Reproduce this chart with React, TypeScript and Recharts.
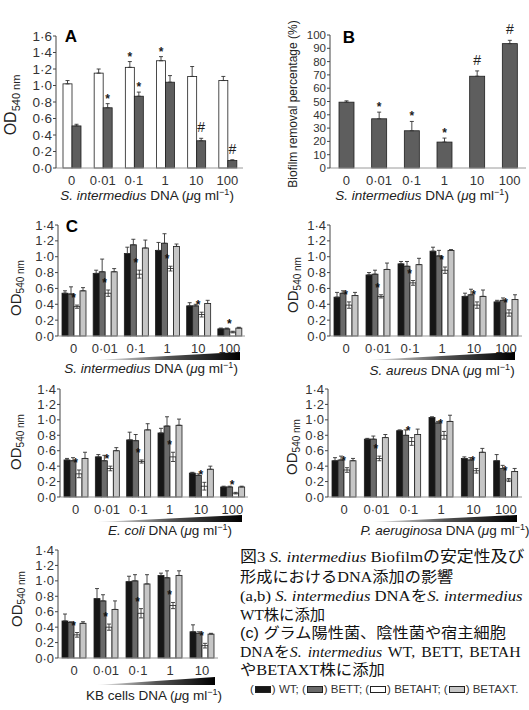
import React from 'react';
import { BarChart, Bar, XAxis, YAxis, ErrorBar } from 'recharts';

// ---------- categories & ticks ----------
const doseCats = ['0', '0·01', '0·1', '1', '10', '100'];
const kbCats = ['0', '0·01', '0·1', '1', '10'];
const odTicksA = [0, 0.2, 0.4, 0.6, 0.8, 1.0, 1.2, 1.4, 1.6];
const odTicksC = [0, 0.2, 0.4, 0.6, 0.8, 1.0, 1.2, 1.4];
const pctTicks = [0, 10, 20, 30, 40, 50, 60, 70, 80, 90, 100];

// ---------- Panel A ----------
const aWhite = [1.02, 1.15, 1.22, 1.30, 1.11, 1.06];
const aWhiteErr = [0.04, 0.05, 0.07, 0.05, 0.12, 0.05];
const aWhiteSig = ['', '', '*', '*', '', ''];
const aDark = [0.51, 0.73, 0.87, 1.04, 0.33, 0.09];
const aDarkErr = [0.02, 0.05, 0.05, 0.08, 0.03, 0.01];
const aDarkSig = ['', '*', '*', '', '#', '#'];

// ---------- Panel B ----------
const bRemoval = [49.5, 37, 28, 19.5, 69, 93.5];
const bRemovalErr = [1, 5, 7, 3, 4, 2.5];
const bRemovalSig = ['', '*', '*', '*', '#', '#'];

// ---------- Panel C: S. intermedius DNA ----------
const siWT = [0.54, 0.79, 1.04, 1.08, 0.38, 0.09];
const siWTErr = [0.03, 0.04, 0.08, 0.10, 0.04, 0.01];
const siBETT = [0.53, 0.81, 1.15, 1.17, 0.38, 0.09];
const siBETTErr = [0.09, 0.16, 0.07, 0.12, 0.02, 0.01];
const siBETAHT = [0.37, 0.54, 0.78, 0.85, 0.27, 0.05];
const siBETAHTErr = [0.02, 0.04, 0.05, 0.03, 0.03, 0.01];
const siBETAXT = [0.57, 0.81, 1.11, 1.13, 0.41, 0.10];
const siBETAXTErr = [0.04, 0.04, 0.10, 0.03, 0.04, 0.01];

// ---------- S. aureus DNA ----------
const saWT = [0.49, 0.77, 0.91, 1.07, 0.50, 0.43];
const saWTErr = [0.06, 0.03, 0.03, 0.05, 0.04, 0.02];
const saBETT = [0.54, 0.78, 0.88, 1.01, 0.52, 0.45];
const saBETTErr = [0.03, 0.05, 0.06, 0.07, 0.07, 0.03];
const saBETAHT = [0.39, 0.50, 0.67, 0.83, 0.39, 0.29];
const saBETAHTErr = [0.04, 0.02, 0.03, 0.04, 0.04, 0.04];
const saBETAXT = [0.51, 0.84, 0.90, 1.08, 0.50, 0.46];
const saBETAXTErr = [0.04, 0.08, 0.08, 0.01, 0.08, 0.06];

// ---------- E. coli DNA ----------
const ecWT = [0.48, 0.52, 0.74, 0.83, 0.31, 0.13];
const ecWTErr = [0.02, 0.03, 0.10, 0.06, 0.01, 0.01];
const ecBETT = [0.47, 0.47, 0.73, 0.92, 0.28, 0.13];
const ecBETTErr = [0.04, 0.07, 0.08, 0.12, 0.02, 0.01];
const ecBETAHT = [0.30, 0.37, 0.46, 0.52, 0.14, 0.05];
const ecBETAHTErr = [0.05, 0.03, 0.02, 0.06, 0.05, 0.01];
const ecBETAXT = [0.50, 0.60, 0.87, 0.93, 0.36, 0.13];
const ecBETAXTErr = [0.08, 0.04, 0.08, 0.08, 0.04, 0.01];

// ---------- P. aeruginosa DNA ----------
const paWT = [0.47, 0.75, 0.86, 1.03, 0.50, 0.47];
const paWTErr = [0.04, 0.01, 0.01, 0.01, 0.02, 0.08];
const paBETT = [0.48, 0.75, 0.80, 0.96, 0.48, 0.37];
const paBETTErr = [0.05, 0.04, 0.07, 0.02, 0.03, 0.04];
const paBETAHT = [0.35, 0.50, 0.72, 0.80, 0.34, 0.22];
const paBETAHTErr = [0.03, 0.03, 0.05, 0.05, 0.03, 0.02];
const paBETAXT = [0.47, 0.77, 0.81, 0.98, 0.58, 0.33];
const paBETAXTErr = [0.03, 0.04, 0.07, 0.08, 0.05, 0.04];

// ---------- KB cells DNA ----------
const kbWT = [0.48, 0.77, 0.99, 1.07, 0.34];
const kbWTErr = [0.09, 0.13, 0.07, 0.03, 0.09];
const kbBETT = [0.46, 0.74, 1.00, 1.04, 0.32];
const kbBETTErr = [0.01, 0.08, 0.08, 0.09, 0.02];
const kbBETAHT = [0.30, 0.40, 0.58, 0.68, 0.16];
const kbBETAHTErr = [0.03, 0.04, 0.06, 0.04, 0.03];
const kbBETAXT = [0.45, 0.63, 0.96, 1.07, 0.31];
const kbBETAXTErr = [0.02, 0.11, 0.12, 0.06, 0.01];

const starAll6 = ['*', '*', '*', '*', '*', '*'];
const starAll5 = ['*', '*', '*', '*', '*'];

const legendItems = ['WT', 'BETT', 'BETAHT', 'BETAXT'];

// ---------- styling ----------
const FILL_WT = '#161616';
const FILL_BETT = '#6a6a6a';
const FILL_BETAHT = '#ffffff';
const FILL_BETAXT = '#c6c6c6';
const FILL_A_DARK = '#5e5e5e';
const SANS = "'Liberation Sans', Arial, sans-serif";
const SERIF = "'Liberation Serif', 'Noto Sans CJK JP', serif";
const SANS_CJK = "'Liberation Sans', 'Noto Sans CJK JP', sans-serif";

type Series = {
  key: string;
  fill: string;
  values: number[];
  errs: number[];
  sig?: string[];
  sym?: boolean;
  markMode?: 'center' | 'left';
};

function makeShape(s: Series) {
  return (props: any) => {
    const { x, y, width, height, payload } = props;
    const v = payload[s.key];
    const e = payload[s.key + 'Err'];
    const up = Array.isArray(e) ? e[1] : e;
    const sig = payload[s.key + 'Sig'];
    const ppu = v > 0 ? height / v : 0;
    const errTop = y - up * ppu;
    let mark: any = null;
    if (sig) {
      if (s.markMode === 'left') {
        mark = (
          <text x={x - 0.5} y={errTop - 3} textAnchor="middle" fontSize={12} fontWeight="bold" fill="#111" fontFamily={SANS}>
            {sig}
          </text>
        );
      } else if (sig === '#') {
        mark = (
          <text x={x + width / 2} y={errTop - 6} textAnchor="middle" fontSize={14} fill="#222" fontFamily={SANS}>
            {sig}
          </text>
        );
      } else {
        mark = (
          <text x={x + width / 2} y={errTop - 1} textAnchor="middle" fontSize={12} fontWeight="bold" fill="#222" fontFamily={SANS}>
            {sig}
          </text>
        );
      }
    }
    return (
      <g>
        <rect x={x} y={y} width={width} height={height} fill={s.fill} stroke="#1e1e1e" strokeWidth={0.8} />
        {mark}
      </g>
    );
  };
}

type PanelProps = {
  x0: number; x1: number; y0: number; y1: number;
  cats: string[];
  series: Series[];
  yMax: number;
  ticks: number[];
  fmt: (v: number) => string;
  barSize: number;
  yWidth: number;
  yFont: number;
};

function Panel(p: PanelProps) {
  const mTop = 16, mRight = 4, mBottom = 4, mLeft = 2, xH = 22;
  const left = p.x0 - p.yWidth - mLeft;
  const top = p.y0 - mTop;
  const width = p.x1 + mRight - left;
  const height = p.y1 + xH + mBottom - top;
  const data = p.cats.map((c, i) => {
    const row: any = { cat: c };
    p.series.forEach((s) => {
      row[s.key] = s.values[i];
      row[s.key + 'Err'] = s.sym ? s.errs[i] : [0, s.errs[i]];
      row[s.key + 'Sig'] = s.sig ? s.sig[i] : '';
    });
    return row;
  });
  return (
    <div style={{ position: 'absolute', left, top }}>
      <BarChart
        width={width}
        height={height}
        data={data}
        margin={{ top: mTop, right: mRight, bottom: mBottom, left: mLeft }}
        barGap={0}
        barSize={p.barSize}
        style={{ overflow: 'visible' }}
      >
        <XAxis
          dataKey="cat"
          tickLine={false}
          axisLine={{ stroke: '#9a9a9a', strokeWidth: 1 }}
          tick={{ fontSize: 13, fill: '#333', fontFamily: SANS }}
          interval={0}
          height={xH}
        />
        <YAxis
          type="number"
          domain={[0, p.yMax]}
          ticks={p.ticks}
          tickFormatter={p.fmt}
          width={p.yWidth}
          axisLine={{ stroke: '#444', strokeWidth: 1 }}
          tickLine={{ stroke: '#444' }}
          tickSize={3}
          tickMargin={1}
          interval={0}
          tick={{ fontSize: p.yFont, fill: '#333', fontFamily: SANS }}
        />
        {p.series.map((s) => (
          <Bar key={s.key} dataKey={s.key} isAnimationActive={false} shape={makeShape(s)}>
            <ErrorBar dataKey={s.key + 'Err'} width={2} stroke="#333" strokeWidth={0.9} direction="y" />
          </Bar>
        ))}
      </BarChart>
    </div>
  );
}

const odFmt = (v: number) => v.toFixed(1).replace('.', '·');
const pctFmt = (v: number) => String(v);

function cSeries(wt: number[], wtE: number[], bt: number[], btE: number[], ah: number[], ahE: number[], ax: number[], axE: number[], sig: string[]): Series[] {
  return [
    { key: 'WT', fill: FILL_WT, values: wt, errs: wtE },
    { key: 'BETT', fill: FILL_BETT, values: bt, errs: btE },
    { key: 'BETAHT', fill: FILL_BETAHT, values: ah, errs: ahE, sym: true, sig, markMode: 'left' },
    { key: 'BETAXT', fill: FILL_BETAXT, values: ax, errs: axE },
  ];
}

function Centered({ cx, cy, children, style }: any) {
  return (
    <div style={{ position: 'absolute', left: cx, top: cy, transform: 'translate(-50%, -50%)', whiteSpace: 'nowrap', ...style }}>
      {children}
    </div>
  );
}

function Rotated({ cx, cy, children, style }: any) {
  return (
    <div style={{ position: 'absolute', left: cx, top: cy, transform: 'translate(-50%, -50%) rotate(-90deg)', whiteSpace: 'nowrap', ...style }}>
      {children}
    </div>
  );
}

function ODLabel({ cx, cy, big }: any) {
  return (
    <Rotated cx={cx} cy={cy} style={{ fontFamily: SANS, fontSize: big ? 16 : 15, color: '#222', lineHeight: 1 }}>
      OD<span style={{ fontSize: big ? 11 : 10, position: 'relative', top: big ? 4 : 3 }}>540 nm</span>
    </Rotated>
  );
}

function XTitle({ cx, cy, italic, rest }: any) {
  return (
    <Centered cx={cx} cy={cy} style={{ fontFamily: SANS, fontSize: 13.5, color: '#222' }}>
      {italic ? <i>{italic}</i> : null}
      {rest} (<i>μ</i>g ml<sup style={{ fontSize: 9 }}>−1</sup>)
    </Centered>
  );
}

function Wedge({ id, xl, xr, yt, yb }: any) {
  return (
    <svg style={{ position: 'absolute', left: xl, top: yt }} width={xr - xl} height={yb - yt}>
      <defs>
        <linearGradient id={id} x1="0" y1="0" x2="1" y2="0">
          <stop offset="0" stopColor="#f2f2f2" />
          <stop offset="0.5" stopColor="#555" />
          <stop offset="1" stopColor="#000" />
        </linearGradient>
      </defs>
      <polygon points={`0,${yb - yt} ${xr - xl},0 ${xr - xl},${yb - yt}`} fill={`url(#${id})`} />
    </svg>
  );
}

const legendFills = [FILL_WT, FILL_BETT, FILL_BETAHT, FILL_BETAXT];

export default function App() {
  const seriesA: Series[] = [
    { key: 'white', fill: '#ffffff', values: aWhite, errs: aWhiteErr, sig: aWhiteSig },
    { key: 'dark', fill: FILL_A_DARK, values: aDark, errs: aDarkErr, sig: aDarkSig },
  ];
  const seriesB: Series[] = [
    { key: 'removal', fill: FILL_A_DARK, values: bRemoval, errs: bRemovalErr, sig: bRemovalSig },
  ];
  const capLine = (cy: number, content: any, scale: number, style: any = {}) => (
    <div style={{ position: 'absolute', left: 240, top: cy - 9, height: 18, lineHeight: '18px', whiteSpace: 'nowrap', fontFamily: SERIF, fontSize: 15, color: '#111', transform: `scaleX(${scale})`, transformOrigin: '0 50%', ...style }}>
      {content}
    </div>
  );
  return (
    <div style={{ position: 'absolute', left: 0, top: 0, width: 529, height: 710, background: '#fff', overflow: 'hidden' }}>
      {/* Panel A */}
      <Panel x0={56} x1={243} y0={36} y1={168} cats={doseCats} series={seriesA} yMax={1.6} ticks={odTicksA} fmt={odFmt} barSize={9} yWidth={44} yFont={13.5} />
      <ODLabel cx={11} cy={105} big />
      <Centered cx={71} cy={37} style={{ fontFamily: SANS, fontWeight: 'bold', fontSize: 17 }}>A</Centered>
      <XTitle cx={147} cy={195} italic="S. intermedius" rest=" DNA" />

      {/* Panel B */}
      <Panel x0={330} x1={526} y0={35} y1={168} cats={doseCats} series={seriesB} yMax={100} ticks={pctTicks} fmt={pctFmt} barSize={15} yWidth={30} yFont={11.5} />
      <Rotated cx={293} cy={104} style={{ fontFamily: SANS, fontSize: 12, color: '#222' }}>Biofilm removal percentage (%)</Rotated>
      <Centered cx={349} cy={38} style={{ fontFamily: SANS, fontWeight: 'bold', fontSize: 17 }}>B</Centered>
      <XTitle cx={422} cy={195} italic="S. intermedius" rest=" DNA" />

      {/* Panel C1: S. intermedius */}
      <Panel x0={58} x1={245} y0={225} y1={336} cats={doseCats}
        series={cSeries(siWT, siWTErr, siBETT, siBETTErr, siBETAHT, siBETAHTErr, siBETAXT, siBETAXTErr, starAll6)}
        yMax={1.4} ticks={odTicksC} fmt={odFmt} barSize={6} yWidth={44} yFont={13} />
      <ODLabel cx={15} cy={288} />
      <Centered cx={72} cy={227} style={{ fontFamily: SANS, fontWeight: 'bold', fontSize: 17 }}>C</Centered>
      <Wedge id="w1" xl={95} xr={240} yt={352} yb={360} />
      <XTitle cx={151} cy={368} italic="S. intermedius" rest=" DNA" />

      {/* Panel C2: S. aureus */}
      <Panel x0={330} x1={522} y0={225} y1={336} cats={doseCats}
        series={cSeries(saWT, saWTErr, saBETT, saBETTErr, saBETAHT, saBETAHTErr, saBETAXT, saBETAXTErr, starAll6)}
        yMax={1.4} ticks={odTicksC} fmt={odFmt} barSize={6} yWidth={44} yFont={13} />
      <ODLabel cx={292} cy={285} />
      <Wedge id="w2" xl={368} xr={515} yt={352} yb={360} />
      <XTitle cx={442} cy={370} italic="S. aureus" rest=" DNA" />

      {/* Panel C3: E. coli */}
      <Panel x0={60} x1={248} y0={389} y1={497} cats={doseCats}
        series={cSeries(ecWT, ecWTErr, ecBETT, ecBETTErr, ecBETAHT, ecBETAHTErr, ecBETAXT, ecBETAXTErr, starAll6)}
        yMax={1.4} ticks={odTicksC} fmt={odFmt} barSize={6} yWidth={44} yFont={13} />
      <ODLabel cx={15} cy={442} />
      <Wedge id="w3" xl={97} xr={242} yt={515} yb={522} />
      <XTitle cx={170} cy={530} italic="E. coli" rest=" DNA" />

      {/* Panel C4: P. aeruginosa */}
      <Panel x0={328} x1={522} y0={389} y1={497} cats={doseCats}
        series={cSeries(paWT, paWTErr, paBETT, paBETTErr, paBETAHT, paBETAHTErr, paBETAXT, paBETAXTErr, starAll6)}
        yMax={1.4} ticks={odTicksC} fmt={odFmt} barSize={6} yWidth={44} yFont={13} />
      <ODLabel cx={291} cy={447} />
      <Wedge id="w4" xl={372} xr={517} yt={515} yb={522} />
      <XTitle cx={445} cy={530} italic="P. aeruginosa" rest=" DNA" />

      {/* Panel C5: KB cells */}
      <Panel x0={58} x1={218} y0={550} y1={658} cats={kbCats}
        series={cSeries(kbWT, kbWTErr, kbBETT, kbBETTErr, kbBETAHT, kbBETAHTErr, kbBETAXT, kbBETAXTErr, starAll5)}
        yMax={1.4} ticks={odTicksC} fmt={odFmt} barSize={6} yWidth={44} yFont={13} />
      <ODLabel cx={16} cy={599} />
      <Wedge id="w5" xl={97} xr={215} yt={677} yb={685} />
      <XTitle cx={154} cy={695} italic="" rest="KB cells DNA" />

      {/* Caption */}
      {capLine(557, <>図3 <i>S. intermedius</i> Biofilmの安定性及び</>, 1.09, { fontSize: 15.5 })}
      {capLine(577, <>形成におけるDNA添加の影響</>, 1.08)}
      {capLine(596, <>(a,b) <i>S. intermedius</i> DNAを<i>S. intermedius</i></>, 1.11)}
      {capLine(615, <>WT株に添加</>, 1.02)}
      {capLine(633, <>(c) グラム陽性菌、陰性菌や宿主細胞</>, 1.08, { fontFamily: SANS_CJK })}
      {capLine(652, <>DNAを<i>S. intermedius</i> WT, BETT, BETAH</>, 1.05, { wordSpacing: 2 })}
      {capLine(670, <>やBETAXT株に添加</>, 1.09)}

      {/* Legend */}
      <div style={{ position: 'absolute', left: 250, top: 682, whiteSpace: 'nowrap', fontFamily: SANS, fontSize: 11.5, color: '#333', lineHeight: '14px' }}>
        {legendItems.map((name, i) => (
          <span key={name}>
            (
            <span style={{ display: 'inline-block', width: 14, height: 5, background: legendFills[i], border: '1px solid #222', verticalAlign: 'middle', margin: '0 1px' }} />
            ) {name}{i < legendItems.length - 1 ? '; ' : '.'}
          </span>
        ))}
      </div>
    </div>
  );
}
